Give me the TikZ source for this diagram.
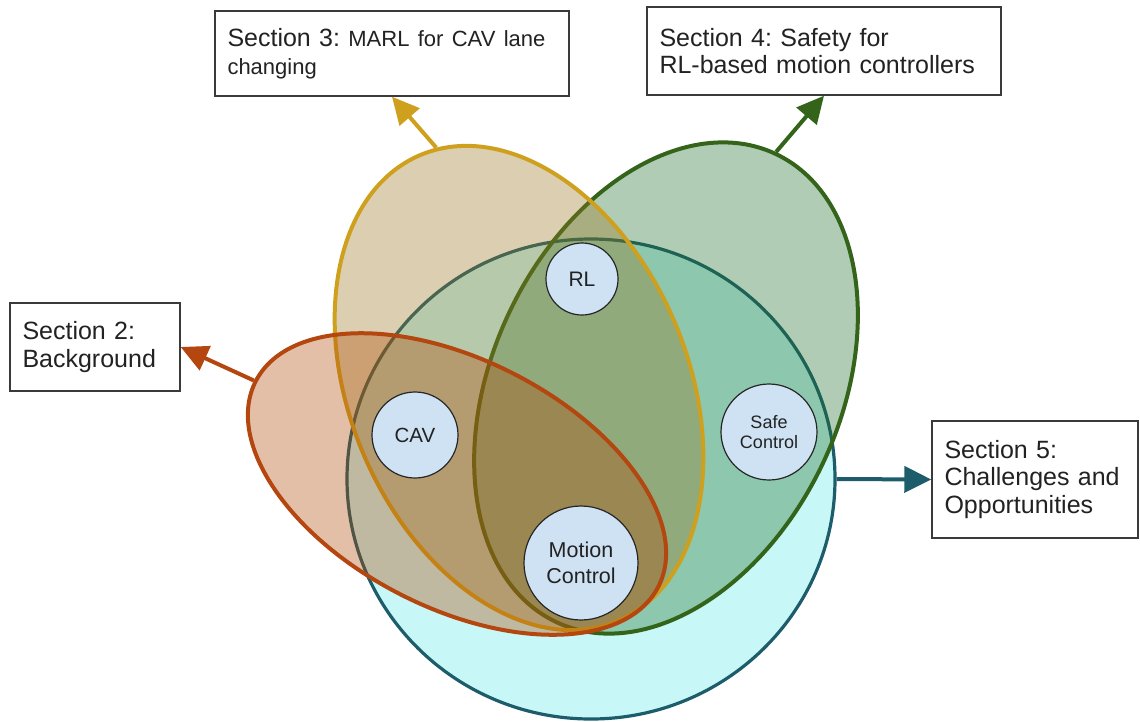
\documentclass[tikz,border=0pt]{standalone}
\usepackage{fontspec}
\setmainfont{Liberation Sans}
\usetikzlibrary{shapes.geometric,arrows.meta}

\definecolor{cyanfill}{HTML}{C8F7F7}
\definecolor{cyanline}{HTML}{1D5C6B}
\definecolor{marlfill}{RGB}{154,118,32}
\definecolor{marlline}{HTML}{CFA01E}
\definecolor{safefill}{RGB}{29,110,40}
\definecolor{safeline}{HTML}{34641A}
\definecolor{bgfill}{RGB}{178,72,3}
\definecolor{bgline}{HTML}{B4460F}
\definecolor{topicfill}{HTML}{CFE2F3}
\definecolor{boxline}{HTML}{3A3A3A}
\definecolor{inktext}{HTML}{222222}

\tikzset{
  area/.style={ellipse, inner sep=0pt, line width=4pt, fill opacity=0.35, draw opacity=1},
  topic/.style={circle, inner sep=0pt, fill=topicfill, draw=black!85, line width=1.2pt,
                text=inktext, align=center},
  sectionbox/.style={draw=boxline, line width=1.4pt, fill=white, inner xsep=12.5pt,
                     inner ysep=0pt, align=left, text=inktext,
                     font=\frenchspacing\fontsize{25}{27.5}\selectfont},
  link/.style={line width=4pt, -{Triangle[length=27pt,width=26pt]}},
}

\begin{document}
\begin{tikzpicture}[x=1pt,y=-1pt]
\useasboundingbox (0,0) rectangle (1140,721);

% overlapping topic areas (translucent fills, opaque outlines)
\node[area, fill=cyanfill, fill opacity=1, draw=cyanline, line width=3.2pt,
      minimum width=488pt, minimum height=480pt] (challenges) at (591,479) {};
\node[area, fill=safefill, draw=safeline,
      minimum width=348pt, minimum height=517pt, rotate=-25] (safety) at (666,388) {};
\node[area, fill=marlfill, draw=marlline,
      minimum width=338pt, minimum height=506pt, rotate=23] (marl) at (519,388) {};
\node[area, fill=bgfill, draw=bgline,
      minimum width=452pt, minimum height=248pt, rotate=-27] (background) at (457,484) {};

% topics
\node[topic, minimum size=72pt, font=\fontsize{21}{24}\selectfont] (rl) at (582,279) {RL};
\node[topic, minimum size=86pt, font=\fontsize{20.5}{24}\selectfont] (cav) at (415,435) {CAV};
\node[topic, minimum size=96pt, font=\fontsize{18}{20.7}\selectfont] (safectl) at (769,432) {Safe\\Control};
\node[topic, minimum size=114pt, font=\fontsize{21.5}{25.7}\selectfont] (motion) at (581,563) {Motion\\Control};

% section boxes
\node[sectionbox, minimum width=170pt, minimum height=88pt, text width=145pt]
  (sec2) at (95,347) {Section 2:\\Background};
\node[sectionbox, minimum width=354pt, minimum height=85pt, text width=329pt]
  (sec3) at (392,53.5) {Section 3: {\fontsize{22}{27.5}\selectfont MARL for CAV lane}\\
  {\fontsize{22}{27.5}\selectfont changing}};
\node[sectionbox, minimum width=354pt, minimum height=88pt, text width=329pt]
  (sec4) at (824,51) {Section 4: Safety for\\RL-based motion controllers};
\node[sectionbox, minimum width=206pt, minimum height=117pt, text width=181pt]
  (sec5) at (1035,479.5) {Section 5:\\Challenges and\\Opportunities};

% arrows from each area to its section
\draw[link, bgline] (background.180) -- (sec2.east);
\draw[link, marlline] (marl.86) -- (sec3.south);
\draw[link, safeline] (safety.90) -- (sec4.south);
\draw[link, cyanline] (challenges.0) -- (sec5.west);
\end{tikzpicture}
\end{document}
